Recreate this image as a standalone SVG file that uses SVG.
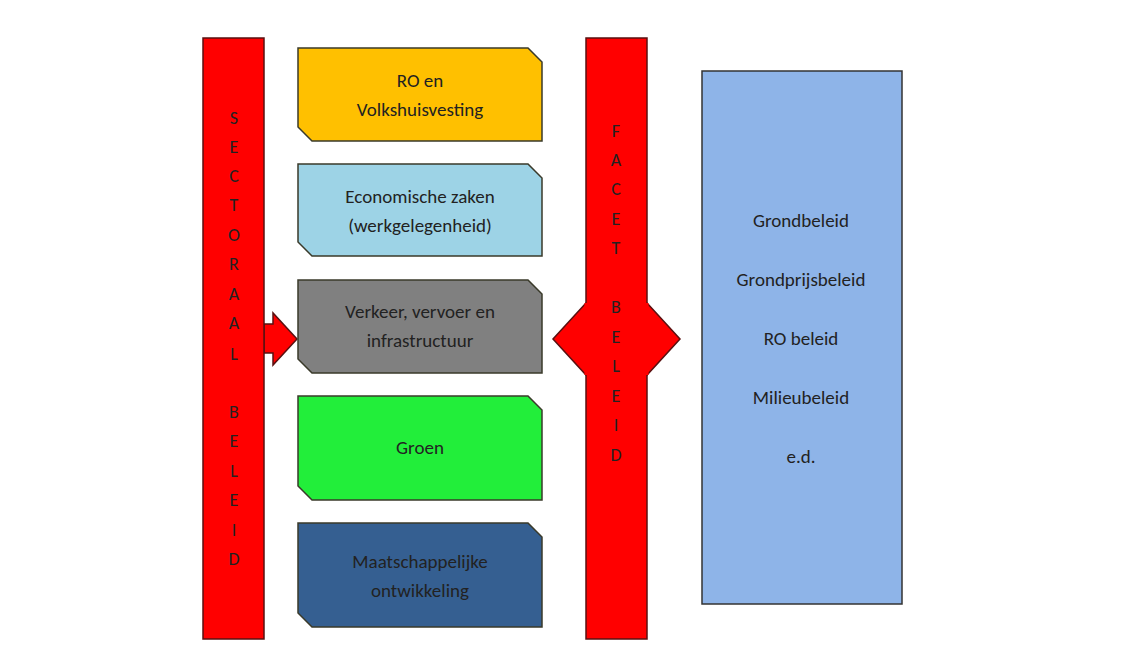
<svg xmlns="http://www.w3.org/2000/svg" width="1147" height="664" viewBox="0 0 1147 664">
<style>
.bar{fill:#ff0000;stroke:#5a1010;stroke-width:1.5}
.box{stroke:#3a3a2a;stroke-width:1.5}
text{font-family:Calibri,"Liberation Sans",sans-serif;font-size:19px;fill:#222;text-anchor:middle}
.v{font-size:18px}
</style>
<rect width="1147" height="664" fill="#fff"/>
<g id="connectors">
<path class="bar" d="M264,324 H273 V313 L297,339 L273,365 V353 H264 Z"/>
<path class="bar" d="M586,303 L553,339 L586,375 Z M647,303 L680,339 L647,375 Z"/>
</g>
<g id="sectoraal">
<rect class="bar" x="203" y="38" width="61" height="601"/>
<text class="v" x="234"><tspan x="234" y="124">S</tspan><tspan x="234" y="153">E</tspan><tspan x="234" y="182">C</tspan><tspan x="234" y="211">T</tspan><tspan x="234" y="241">O</tspan><tspan x="234" y="270">R</tspan><tspan x="234" y="300">A</tspan><tspan x="234" y="329">A</tspan><tspan x="234" y="360">L</tspan><tspan x="234" y="418">B</tspan><tspan x="234" y="447">E</tspan><tspan x="234" y="477">L</tspan><tspan x="234" y="506">E</tspan><tspan x="234" y="536">I</tspan><tspan x="234" y="565">D</tspan></text>
</g>
<g id="facet">
<rect class="bar" x="586" y="38" width="61" height="601"/>
<path d="M586,303 V375 M647,303 V375" stroke="#ff0000" stroke-width="3"/>
<text class="v"><tspan x="616" y="137">F</tspan><tspan x="616" y="166">A</tspan><tspan x="616" y="195">C</tspan><tspan x="616" y="225">E</tspan><tspan x="616" y="254">T</tspan><tspan x="616" y="313">B</tspan><tspan x="616" y="343">E</tspan><tspan x="616" y="372">L</tspan><tspan x="616" y="402">E</tspan><tspan x="616" y="431">I</tspan><tspan x="616" y="461">D</tspan></text>
</g>
<g id="ro">
<path class="box" fill="#ffc000" d="M298,48 H528 L542,62 V141 H312 L298,127 Z"/>
<text x="420" y="87">RO en</text><text x="420" y="116">Volkshuisvesting</text>
</g>
<g id="ez">
<path class="box" fill="#9dd3e6" d="M298,164 H528 L542,178 V256 H312 L298,242 Z"/>
<text x="420" y="203">Economische zaken</text><text x="420" y="232">(werkgelegenheid)</text>
</g>
<g id="vvi">
<path class="box" fill="#808080" d="M298,280 H528 L542,294 V373 H312 L298,359 Z"/>
<text x="420" y="318">Verkeer, vervoer en</text><text x="420" y="347">infrastructuur</text>
</g>
<g id="groen">
<path class="box" fill="#22ee3a" d="M298,396 H528 L542,410 V500 H312 L298,486 Z"/>
<text x="420" y="454">Groen</text>
</g>
<g id="mo">
<path class="box" fill="#355f91" d="M298,523 H528 L542,537 V627 H312 L298,613 Z"/>
<text x="420" y="568">Maatschappelijke</text><text x="420" y="597">ontwikkeling</text>
</g>
<g id="facetlist">
<rect x="702" y="71" width="200" height="533" fill="#8eb4e8" stroke="#333" stroke-width="1.5"/>
<text x="801" y="227">Grondbeleid</text>
<text x="801" y="286">Grondprijsbeleid</text>
<text x="801" y="345">RO beleid</text>
<text x="801" y="404">Milieubeleid</text>
<text x="801" y="463">e.d.</text>
</g>
</svg>
